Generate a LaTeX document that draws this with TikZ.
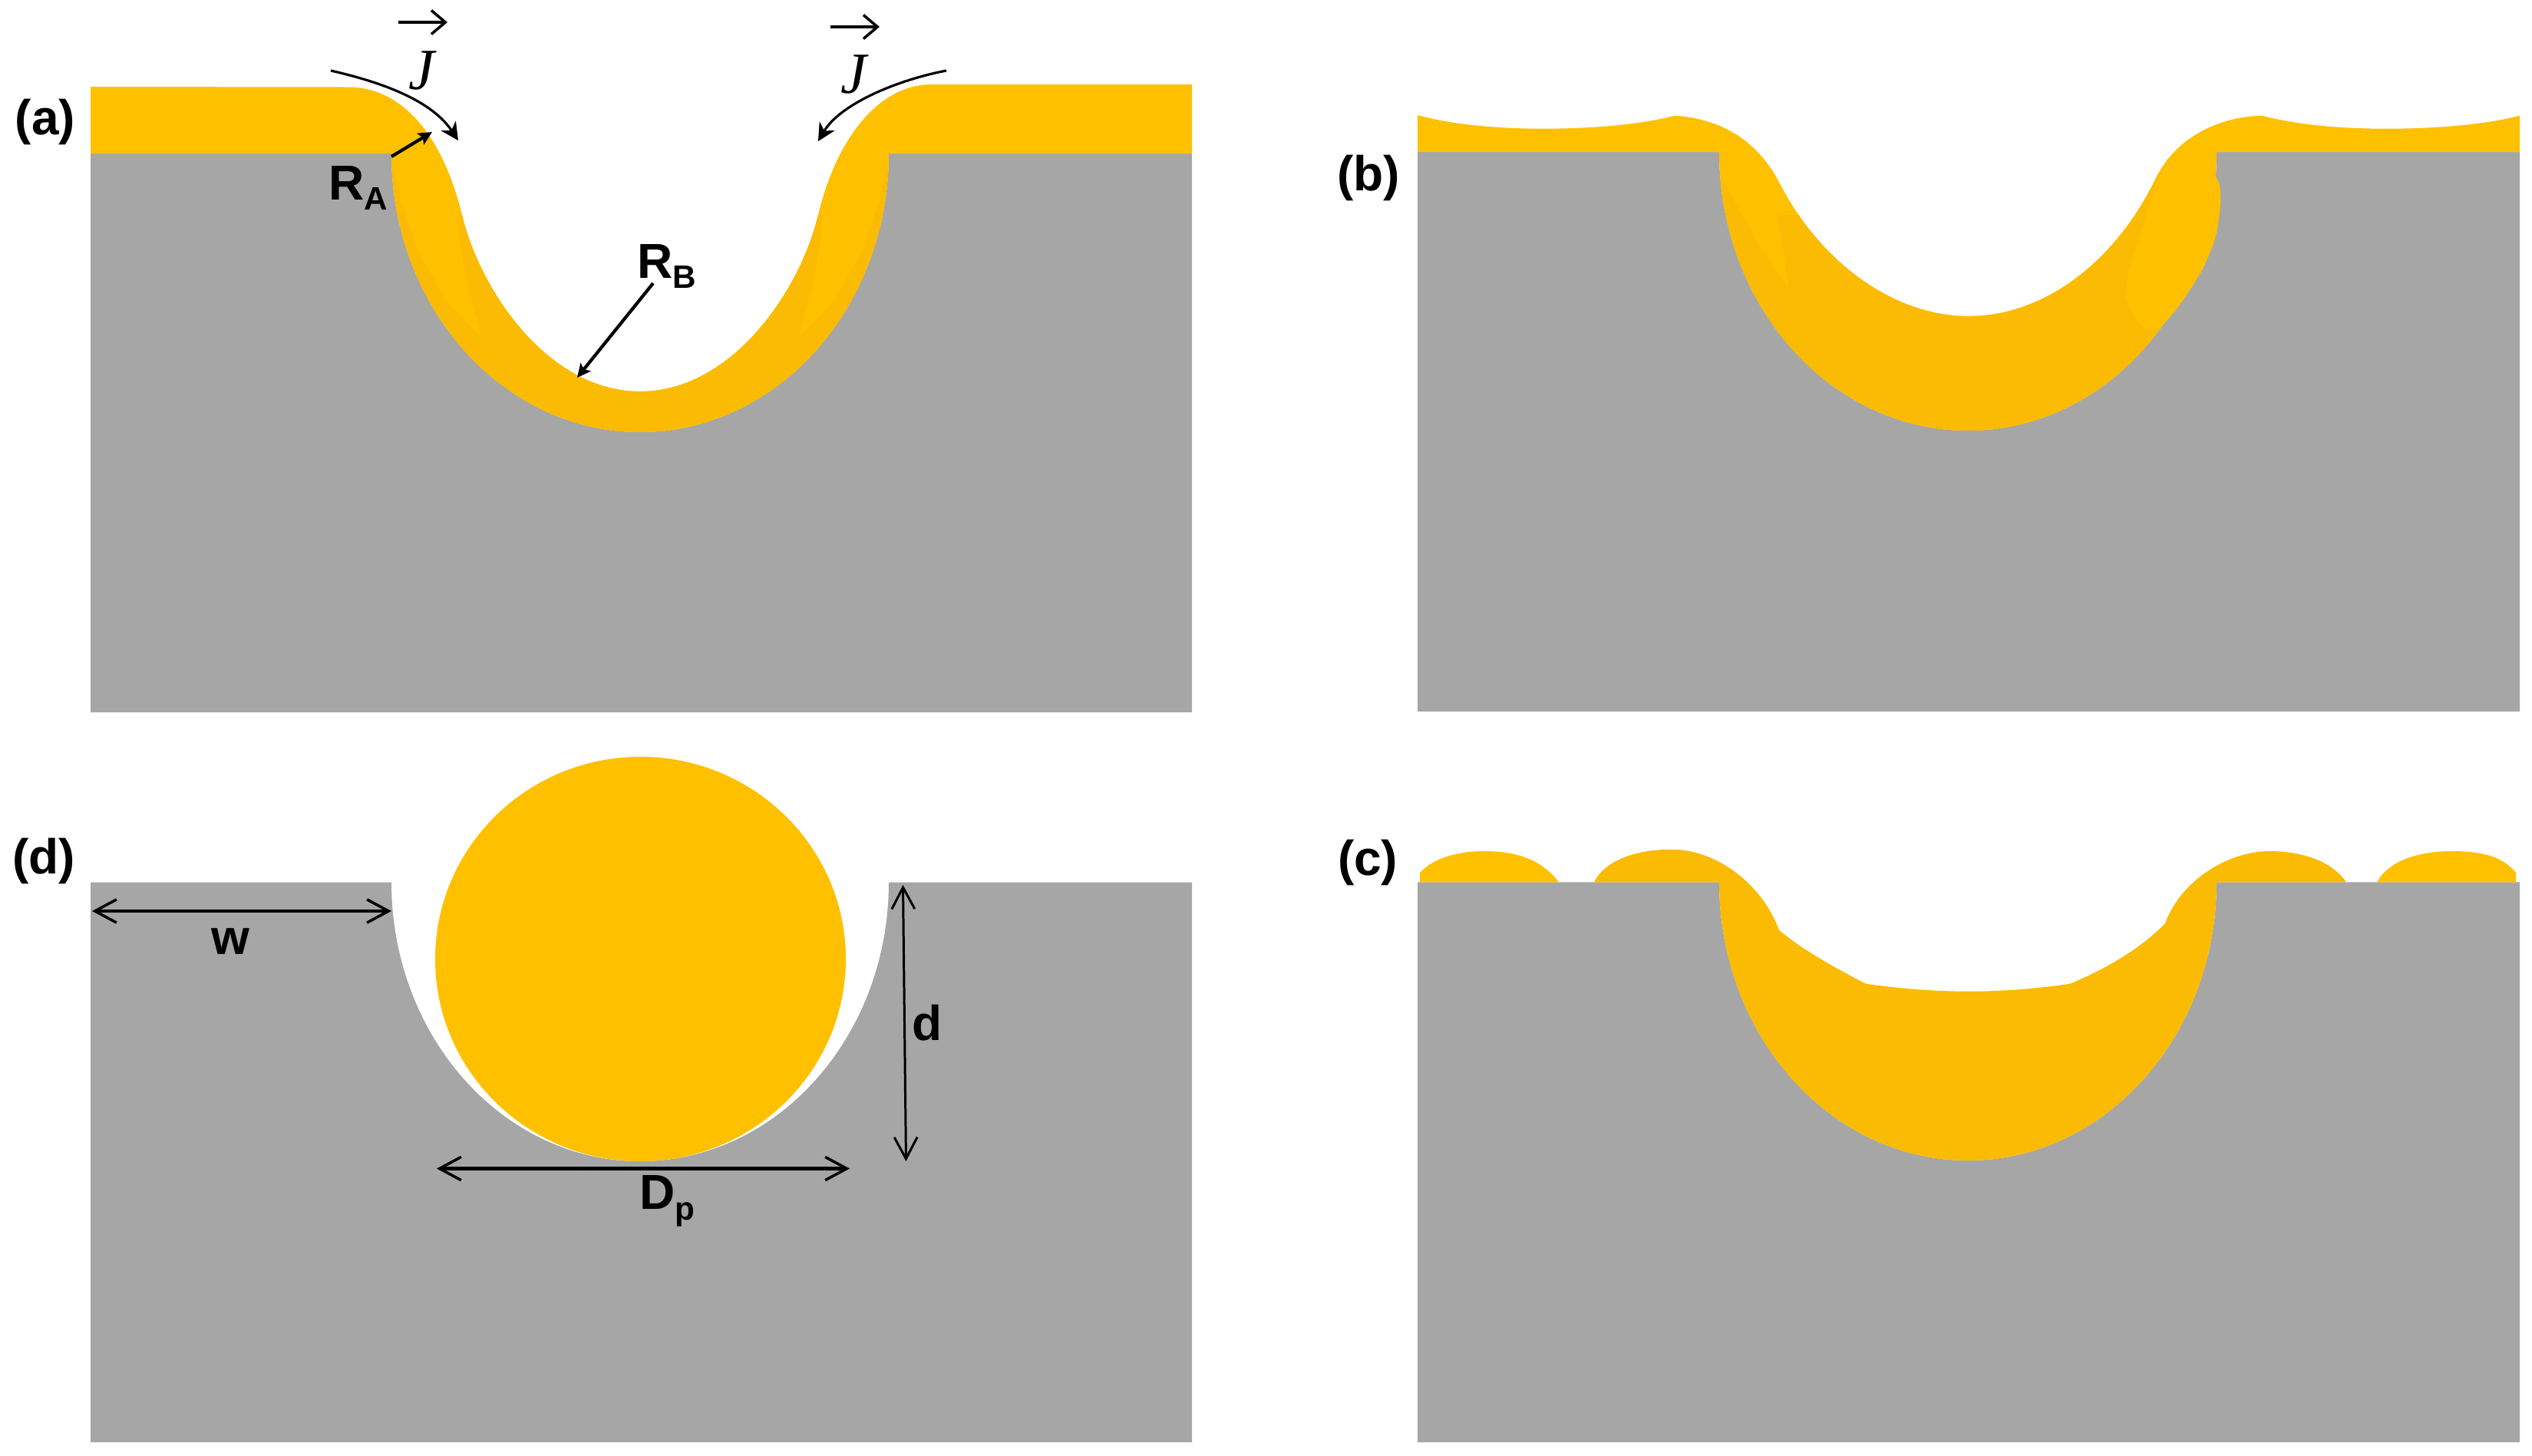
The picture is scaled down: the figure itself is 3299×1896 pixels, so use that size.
\documentclass[tikz,border=0pt]{standalone}
\usepackage{fontspec}
\setmainfont{Liberation Sans}
\newfontfamily\jfont{Liberation Serif}
\usetikzlibrary{arrows.meta}
\definecolor{goldA}{HTML}{FFC000}
\definecolor{goldB}{HTML}{FABB02}
\definecolor{blockgray}{HTML}{A6A6A6}
\newcommand\lab[3]{#1\raisebox{-#3}{\fontsize{12pt}{13pt}\selectfont #2}}
\tikzset{
  blockfill/.style={fill=blockgray,draw=none},
  lightfill/.style={fill=goldA,draw=none},
  darkfill/.style={fill=goldB,draw=none},
  txt/.style={inner sep=0pt,outer sep=0pt,anchor=base west,font=\bfseries\fontsize{18.2pt}{20pt}\selectfont,text=black},
  jtxt/.style={inner sep=0pt,outer sep=0pt,font=\jfont\itshape\fontsize{21.6pt}{22pt}\selectfont,text=black},
  vecmark/.style={line width=1.3pt,-{Straight Barb[length=5.2pt,width=8.8pt,line width=1pt]},black},
  fluxline/.style={line width=0.9pt,-{Stealth[length=6.5pt,width=6.5pt,inset=2pt]},black},
  radiusline/.style={line width=1.2pt,-{Stealth[length=5pt,width=4.8pt,inset=1pt]},black},
  dimthick/.style={line width=1.2pt,{Straight Barb[length=8pt,width=8.6pt,line width=1pt]}-{Straight Barb[length=8pt,width=8.6pt,line width=1pt]},black},
  dimthin/.style={line width=0.85pt,{Straight Barb[length=8pt,width=8.5pt,line width=0.85pt]}-{Straight Barb[length=8pt,width=8.5pt,line width=0.85pt]},black}
}
\begin{document}
\begin{tikzpicture}[x=0.01cm,y=-0.01cm]
\useasboundingbox (0,0) rectangle (3299,1896);

% ---------- panel (a)
\fill[blockfill] (118,200) -- (510,200) .. controls (510,400.5) and (655,563) .. (834,563)
  .. controls (1013,563) and (1158,400.5) .. (1158,200) -- (1553,200) -- (1553,928) -- (118,928) -- cycle;
\def\goldApath{(118,113) -- (454,113.5) .. controls (520,113.5) and (575,170) .. (602,280)
  .. controls (626,380) and (715,510) .. (834,510)
  .. controls (953,510) and (1042,380) .. (1066,280)
  .. controls (1090,180) and (1145,110) .. (1214,110)
  -- (1553,110) -- (1553,200) -- (1158,200) .. controls (1158,400.5) and (1013,563) .. (834,563)
  .. controls (655,563) and (510,400.5) .. (510,200) -- (118,200) -- cycle}
\fill[lightfill] \goldApath;
\begin{scope}
  \clip \goldApath;
  \fill[darkfill] (368,215) -- (511,215) -- (521,257) -- (543,323) -- (579,390) -- (628,441) -- (611,377) -- (600,323) -- (596,280) -- (700,280) -- (968,280) -- (1072,280) -- (1068,323) -- (1057,377) -- (1040,441) -- (1089,390) -- (1125,323) -- (1147,257) -- (1157,215) -- (1300,215) -- (1300,600) -- (368,600) -- cycle;
\end{scope}

% ---------- panel (b)
\fill[blockfill] (1847,198) -- (2240,198) .. controls (2240,398.5) and (2385,561) .. (2564,561)
  .. controls (2743,561) and (2888,398.5) .. (2888,198) -- (3283,198) -- (3283,927) -- (1847,927) -- cycle;
\def\goldBpath{(1847,150) .. controls (1890,162) and (1950,167.7) .. (2010,167.7)
  .. controls (2070,167.7) and (2135,163) .. (2182,150.7)
  .. controls (2250,155) and (2295,190) .. (2321,243)
  .. controls (2375,345) and (2470,412) .. (2565,412)
  .. controls (2660,412) and (2755,345) .. (2810,230)
  .. controls (2835,180) and (2890,152) .. (2947,150.7)
  .. controls (2995,163) and (3050,167.7) .. (3110,167.7)
  .. controls (3170,167.7) and (3235,163) .. (3283,150.7)
  -- (3283,198) -- (2888,198) .. controls (2888,398.5) and (2743,561) .. (2564,561)
  .. controls (2385,561) and (2240,398.5) .. (2240,198) -- (1847,198) -- cycle}
\fill[lightfill] \goldBpath;
\begin{scope}
  \clip \goldBpath;
  \fill[darkfill] (2100,233) -- (2244,233) -- (2288,313) -- (2331,377) -- (2316,280) -- (2400,280) -- (2720,280) -- (2812,225) -- (3000,225) -- (3000,600) -- (2100,600) -- cycle;
\end{scope}
\fill[lightfill] plot[smooth cycle,tension=0.5] coordinates {(2888,232) (2893,263) (2887,307) (2870,350) (2840,397) (2815,425) (2793,428) (2770,387) (2777,340) (2793,293) (2812,232) (2850,200)};

% ---------- panel (d)
\fill[blockfill] (118,1149.5) -- (510,1149.5) .. controls (510,1350) and (655,1513) .. (834,1513)
  .. controls (1013,1513) and (1158,1350) .. (1158,1149.5) -- (1553,1149.5) -- (1553,1879) -- (118,1879) -- cycle;
\fill[lightfill] (834.5,986) .. controls (982,986) and (1102,1104) .. (1102,1249.5)
  .. controls (1102,1395) and (982,1513) .. (834.5,1513)
  .. controls (687,1513) and (567,1395) .. (567,1249.5)
  .. controls (567,1104) and (687,986) .. (834.5,986) -- cycle;

% ---------- panel (c)
\fill[blockfill] (1847,1149.3) -- (2240,1149.3) .. controls (2240,1349.6) and (2385,1512) .. (2564,1512)
  .. controls (2743,1512) and (2888,1349.6) .. (2888,1149.3) -- (3283,1149.3) -- (3283,1879) -- (1847,1879) -- cycle;
\fill[lightfill] (1850,1149.3) -- (1850,1137) .. controls (1868,1118) and (1898,1109) .. (1934,1109)
  .. controls (1985,1109) and (2012,1125) .. (2031,1149.3) -- cycle;
\fill[lightfill] (3097,1149.3) .. controls (3112,1122) and (3150,1109) .. (3194,1109)
  .. controls (3240,1109) and (3262,1118) .. (3278,1137) -- (3278,1149.3) -- cycle;
\fill[darkfill] (2077,1149.3) .. controls (2090,1122) and (2130,1106.7) .. (2178,1106.7)
  .. controls (2235,1106.7) and (2295,1150) .. (2318,1211.7)
  .. controls (2345,1235) and (2385,1258) .. (2431,1281.7)
  .. controls (2475,1288) and (2520,1291.7) .. (2565,1291.7)
  .. controls (2610,1291.7) and (2655,1288) .. (2697,1281.7)
  .. controls (2745,1262) and (2790,1235) .. (2821,1203)
  .. controls (2840,1150) and (2900,1109) .. (2957,1109)
  .. controls (3000,1109) and (3038,1122) .. (3057,1149.3)
  -- (2888,1149.3) .. controls (2888,1349.6) and (2743,1512) .. (2564,1512)
  .. controls (2385,1512) and (2240,1349.6) .. (2240,1149.3) -- cycle;

% ---------- panel labels
\node[txt] (la) at (20,175) {(a)};
\node[txt] (lb) at (1742,248.5) {(b)};
\node[txt] (lc) at (1743,1140) {(c)};
\node[txt] (ld) at (16,1138) {(d)};

% ---------- flux labels and arrows
\node[jtxt] (j1) at (549,92) {J};
\node[jtxt] (j2) at (1112,97) {J};
\coordinate (v1a) at (519,29);  \coordinate (v1b) at (583,29);
\coordinate (v2a) at (1082,35); \coordinate (v2b) at (1146,35);
\draw[vecmark] (v1a) -- (v1b);
\draw[vecmark] (v2a) -- (v2b);
\coordinate (f1a) at (431,92);  \coordinate (f1b) at (597,183);
\coordinate (f2a) at (1233,92); \coordinate (f2b) at (1066,184);
\draw[fluxline] (f1a) .. controls (510,110) and (565,135) .. (f1b);
\draw[fluxline] (f2a) .. controls (1170,104) and (1095,135) .. (f2b);

% ---------- radii
\node[txt] (ra) at (428,260) {\lab{R}{A}{3.8pt}};
\node[txt] (rb) at (830,362) {\lab{R}{B}{3.8pt}};
\coordinate (ra1) at (510,204); \coordinate (ra2) at (563,172);
\coordinate (rb1) at (851,369); \coordinate (rb2) at (752,492);
\draw[radiusline] (ra1) -- (ra2);
\draw[radiusline] (rb1) -- (rb2);

% ---------- dimensions in (d)
\coordinate (w1) at (120,1187);  \coordinate (w2) at (510,1187);
\coordinate (d1) at (1176.5,1153); \coordinate (d2) at (1180.5,1513);
\coordinate (p1) at (569,1522.5); \coordinate (p2) at (1107,1522.5);
\draw[dimthick] (w1) -- (w2);
\draw[dimthin] (d1) -- (d2);
\draw[dimthick] (p1) -- (p2);
\node[txt] (wl) at (275,1243) {w};
\node[txt] (dl) at (1188,1355.5) {d};
\node[txt] (dp) at (833,1575) {\lab{D}{p}{4pt}};
\end{tikzpicture}
\end{document}
